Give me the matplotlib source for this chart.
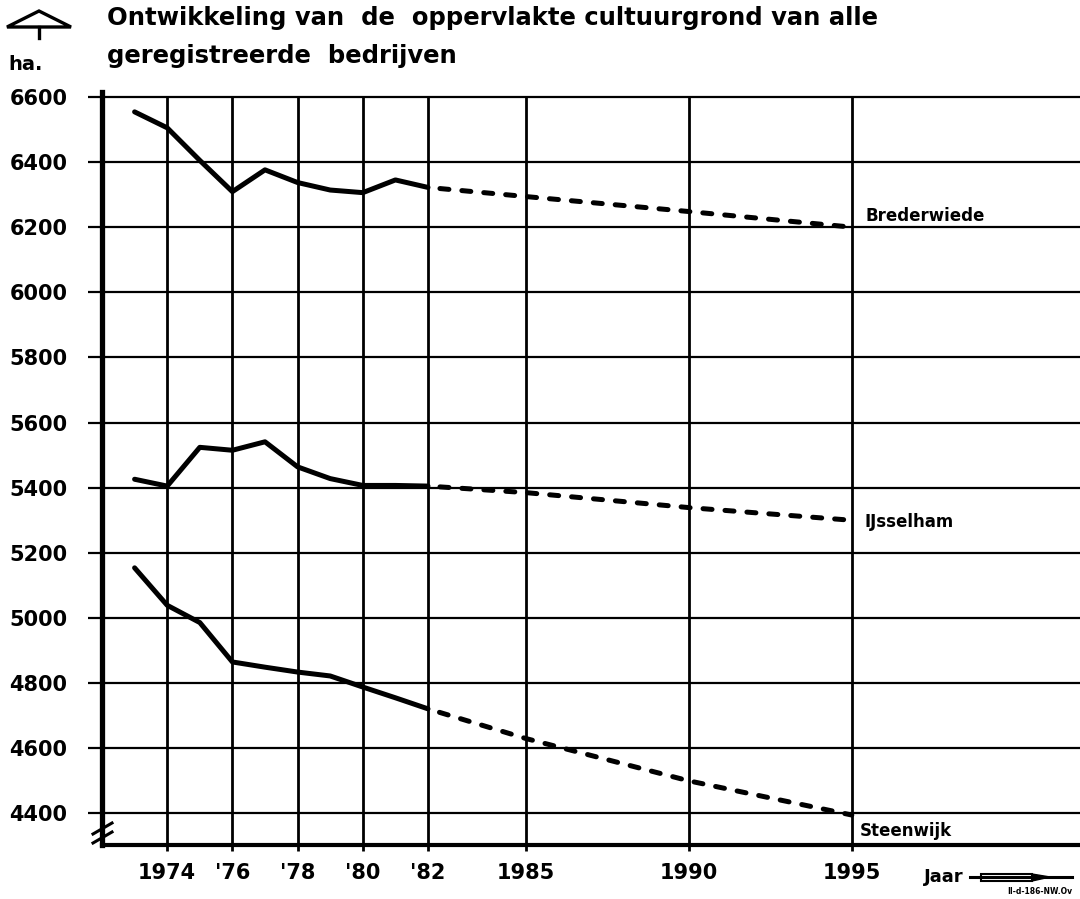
import matplotlib
matplotlib.use("Agg")
import matplotlib.pyplot as plt
from matplotlib.lines import Line2D
from matplotlib.patches import Polygon, Rectangle

plt.rcParams['font.family'] = ['DejaVu Sans']

years = [1973, 1974, 1975, 1976, 1977, 1978, 1979, 1980, 1981, 1982]
brederwiede = [6554, 6505, 6405, 6309, 6376, 6337, 6314, 6306, 6345, 6322]
ijsselham = [5426, 5405, 5524, 5515, 5541, 5464, 5428, 5407, 5407, 5405]
steenwijk = [5154, 5039, 4986, 4865, 4849, 4834, 4822, 4788, 4755, 4721]

# prognosis (dashed)
proj_years = [1982, 1985, 1990, 1995]
brederwiede_proj = [6322, 6294, 6248, 6200]
ijsselham_proj = [5405, 5385, 5339, 5300]
steenwijk_proj = [4721, 4630, 4500, 4395]

xticks = [1974, 1976, 1978, 1980, 1982, 1985, 1990, 1995]
xlabels = ['1974', "'76", "'78", "'80", "'82", '1985', '1990', '1995']
yticks = list(range(4400, 6601, 200))

W, H = 1080, 899
fig = plt.figure(figsize=(W / 100, H / 100), dpi=100)

def fx(px):
    return px / W

def fy(py):
    return 1 - py / H

ax = fig.add_axes([fx(102), fy(845), fx(1080) - fx(102), fy(92) - fy(845)])
ax.set_xlim(1972, 2002)
ax.set_ylim(4303, 6615)

# grid
for y in yticks:
    ax.axhline(y, color='black', lw=1.6, zorder=1)
for x in xticks:
    ax.axvline(x, ymax=(6600 - 4303) / (6615 - 4303), color='black', lw=2.0, zorder=1)

for vals, proj in [(brederwiede, brederwiede_proj), (ijsselham, ijsselham_proj),
                   (steenwijk, steenwijk_proj)]:
    ax.plot(years, vals, color='black', lw=3.6, solid_capstyle='round',
            solid_joinstyle='round', zorder=3)
    ax.plot(proj_years, proj, color='black', lw=3.6, linestyle=(2.0, (1.8, 2.6)),
            dash_capstyle='round', zorder=3)

lab = dict(fontsize=12, fontweight='bold', va='center', ha='left')
ax.text(1995.43, 6234, 'Brederwiede', **lab)
ax.text(1995.38, 5296, 'IJsselham', **lab)
ax.text(1995.25, 4345, 'Steenwijk', **lab)

ax.spines['top'].set_visible(False)
ax.spines['right'].set_visible(False)
ax.spines['left'].set_linewidth(3.8)
ax.spines['bottom'].set_linewidth(3.0)

ax.set_xticks(xticks)
ax.set_xticklabels(xlabels)
ax.set_yticks(yticks)
ax.tick_params(axis='y', direction='out', length=10, width=1.6, pad=15,
               labelsize=15)
ax.tick_params(axis='x', direction='out', length=4, width=2.0, pad=9,
               labelsize=15)
for t in ax.get_xticklabels() + ax.get_yticklabels():
    t.set_fontweight('bold')

# axis break on y axis
for dy in (0, 9):
    fig.add_artist(Line2D([fx(93), fx(112)], [fy(834 + dy), fy(823 + dy)],
                          color='black', lw=2.2))

# title
fig.text(fx(107), fy(18), 'Ontwikkeling van  de  oppervlakte cultuurgrond van alle',
         fontsize=17.5, fontweight='bold', va='center', ha='left')
fig.text(fx(107), fy(56), 'geregistreerde  bedrijven',
         fontsize=17.5, fontweight='bold', va='center', ha='left')
fig.text(fx(26), fy(64), 'ha.', fontsize=14, fontweight='bold', va='center', ha='center')

# roof-shaped unit symbol
fig.add_artist(Polygon([[fx(7), fy(27)], [fx(39), fy(11)], [fx(71), fy(27)]],
                       closed=True, fill=False, edgecolor='black', lw=2.4))
fig.add_artist(Line2D([fx(39), fx(39)], [fy(27), fy(38)], color='black', lw=2.4))

# "Jaar" arrow
fig.text(fx(924), fy(877), 'Jaar', fontsize=13, fontweight='bold', va='center', ha='left')
fig.add_artist(Line2D([fx(970), fx(1072)], [fy(877), fy(877)], color='black', lw=2.2))
fig.add_artist(Rectangle((fx(981), fy(881)), fx(1032) - fx(981), fy(874) - fy(881),
                         facecolor='white', edgecolor='black', lw=1.5))
fig.add_artist(Polygon([[fx(1032), fy(874)], [fx(1050), fy(877)], [fx(1032), fy(881)]],
                       closed=True, facecolor='black', edgecolor='black', lw=1))
fig.text(fx(1072), fy(892), 'II-d-186-NW.Ov', fontsize=5.5, fontweight='bold',
         va='center', ha='right')

fig.savefig('out.png', dpi=100, facecolor='white')
